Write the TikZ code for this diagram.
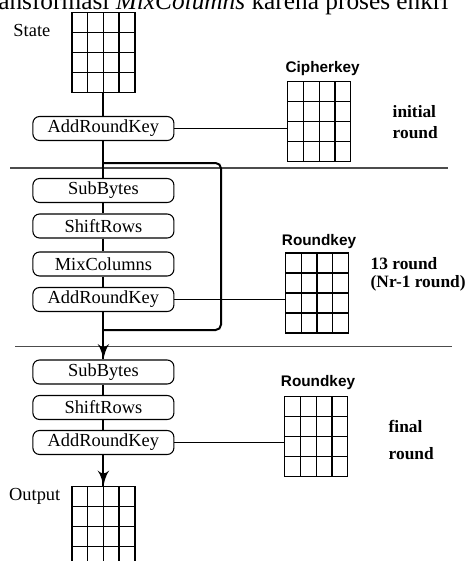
\documentclass[tikz,border=0pt]{standalone}
\usepackage{fontspec}
\setmainfont{Liberation Serif}
\setsansfont{Liberation Sans}
\usetikzlibrary{arrows}
\usetikzlibrary{calc}
\usetikzlibrary{decorations.markings}
\tikzset{->/.style = {decoration={markings,
                                  mark=at position 1 with {\arrow[scale=1.6]{latex'}}},
                      postaction={decorate}}}
\tikzset{oper/.style = {draw, line width=.8pt, rounded corners=5pt,
                        minimum width=105.75pt, minimum height=18pt, inner sep=0pt,
                        font=\fontsize{13.8}{16}\selectfont},
         keygrid/.style = {draw, line width=1pt, minimum width=47.25pt,
                           minimum height=60pt, inner sep=0pt,
                           path picture={\foreach \f in {.25,.5,.75} {
                             \draw [line width=1pt]
                               ($(path picture bounding box.south west)!\f!(path picture bounding box.south east)$) --
                               ($(path picture bounding box.north west)!\f!(path picture bounding box.north east)$);
                             \draw [line width=1pt]
                               ($(path picture bounding box.south west)!\f!(path picture bounding box.north west)$) --
                               ($(path picture bounding box.south east)!\f!(path picture bounding box.north east)$);}}},
         keyname/.style = {font=\sffamily\bfseries\fontsize{11.5}{13}\selectfont},
         roundname/.style = {font=\bfseries\fontsize{13}{13}\selectfont, align=left, anchor=west},
         gridname/.style = {anchor=east, font=\fontsize{13.8}{16}\selectfont},
         flow/.style = {line width=1.5pt},
         link/.style = {line width=.75pt},
         divider/.style = {line width=.9pt, black!70}}
\begin{document}
\begin{tikzpicture}[x=15pt, y=-15pt]
      \useasboundingbox (0, 0) rectangle (23.4, 28.05);
      \node (pagetext) [anchor=base west, inner sep=0pt, font=\fontsize{19}{22}\selectfont]
            at (-0.1, 0.45) {ansformasi \textit{MixColumns} karena proses enkri};

      \draw [divider] (0.5, 8.4) -- (22.4, 8.4);
      \draw [divider] (0.75, 17.335) -- (22.6, 17.335);

      \node (state) [keygrid] at (5.17, 2.615) {};
      \node (statename) [gridname] at (2.75, 1.5) {State};
      \node (ark0) [oper] at (5.17, 6.425) {AddRoundKey};

      \node (sb1) [oper] at (5.17, 9.525) {SubBytes};
      \node (sr1) [oper] at (5.17, 11.3) {ShiftRows};
      \node (mc1) [oper] at (5.17, 13.2) {MixColumns};
      \node (ark1) [oper] at (5.17, 14.975) {AddRoundKey};

      \node (sb2) [oper] at (5.17, 18.6) {SubBytes};
      \node (sr2) [oper] at (5.17, 20.375) {ShiftRows};
      \node (ark2) [oper] at (5.17, 22.125) {AddRoundKey};
      \node (output) [keygrid] at (5.17, 26.335) {};
      \node (outname) [gridname] at (3.25, 24.835) {Output};

      \node (cipher) [keygrid] at (15.96, 6.085) {};
      \node (ciphername) [keyname] at (16.135, 3.45) {Cipherkey};
      \node (rk1) [keygrid] at (15.85, 14.65) {};
      \node (rk1name) [keyname] at (15.95, 12.085) {Roundkey};
      \node (rk2) [keygrid] at (15.815, 21.815) {};
      \node (rk2name) [keyname] at (15.9, 19.15) {Roundkey};

      \node (initname) [roundname] at (19.4, 6.1) {initial\\[2.5pt]round};
      \node (midname) [roundname] at (18.3, 13.71) {13 round\\[.25pt](Nr-1 round)};
      \node (finalname) [roundname] at (19.2, 21.99) {final\\[6.8pt]round};

      \draw [flow] (state) -- (ark0);
      \draw [flow] (ark0) -- (sb1);
      \draw [flow] (sb1) -- (sr1);
      \draw [flow] (sr1) -- (mc1);
      \draw [flow] (mc1) -- (ark1);
      \draw [flow, ->] (ark1) -- (sb2);
      \draw [flow] (sb2) -- (sr2);
      \draw [flow] (sr2) -- (ark2);
      \draw [flow, ->] (ark2) -- (output);

      \coordinate (looptop) at (11.05, 8.15);
      \coordinate (loopbot) at (11.05, 16.5);
      \draw [flow, rounded corners=4pt] (ark0.south |- looptop) -- (looptop) -- (loopbot) -- (loopbot -| ark1.south);

      \draw [link] (ark0.east) -- (ark0.east -| cipher.west);
      \draw [link] (ark1.east) -- (ark1.east -| rk1.west);
      \draw [link] (ark2.east) -- (ark2.east -| rk2.west);
    \end{tikzpicture}
\end{document}
